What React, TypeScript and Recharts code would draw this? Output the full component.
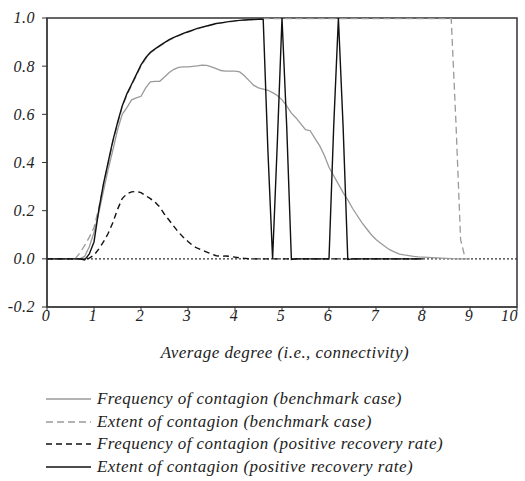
import {
  LineChart,
  Line,
  XAxis,
  YAxis,
  ReferenceLine,
  ReferenceArea,
} from "recharts";

// [average degree, value] pairs
const freqBenchmark: [number, number][] = [
  [0, 0], [0.7, 0], [0.8, 0.01], [0.9, 0.05], [1.0, 0.11], [1.1, 0.19],
  [1.2, 0.28], [1.3, 0.37], [1.4, 0.45], [1.5, 0.535], [1.6, 0.6],
  [1.7, 0.628], [1.8, 0.66], [1.9, 0.668], [2.0, 0.675], [2.1, 0.71],
  [2.2, 0.735], [2.3, 0.737], [2.4, 0.737], [2.5, 0.755], [2.6, 0.774],
  [2.7, 0.787], [2.8, 0.795], [2.9, 0.797], [3.0, 0.797], [3.1, 0.799],
  [3.2, 0.801], [3.3, 0.804], [3.4, 0.803], [3.5, 0.797], [3.6, 0.79],
  [3.7, 0.782], [3.8, 0.779], [3.9, 0.779], [4.0, 0.779], [4.1, 0.776],
  [4.2, 0.76], [4.3, 0.74], [4.4, 0.72], [4.5, 0.71], [4.6, 0.705],
  [4.7, 0.7], [4.8, 0.69], [4.9, 0.678], [5.0, 0.66], [5.1, 0.635],
  [5.2, 0.605], [5.3, 0.585], [5.4, 0.56], [5.5, 0.536], [5.6, 0.532],
  [5.7, 0.5], [5.8, 0.47], [5.9, 0.43], [6.0, 0.38], [6.1, 0.345],
  [6.2, 0.31], [6.3, 0.275], [6.4, 0.245], [6.5, 0.21], [6.6, 0.18],
  [6.7, 0.15], [6.8, 0.125], [6.9, 0.1], [7.0, 0.08], [7.1, 0.065],
  [7.2, 0.05], [7.3, 0.037], [7.4, 0.028], [7.5, 0.02], [7.6, 0.016],
  [7.7, 0.013], [7.8, 0.01], [7.9, 0.008], [8.0, 0.007], [8.2, 0.005],
  [8.4, 0.003], [8.6, 0.001], [8.8, 0], [9.0, 0],
];

const extentBenchmark: [number, number][] = [
  [0.6, 0], [0.7, 0.025], [0.8, 0.055], [0.9, 0.09], [1.0, 0.13],
  [1.1, 0.21], [1.2, 0.305], [1.3, 0.395], [1.4, 0.485], [1.5, 0.56],
  [1.6, 0.63], [1.7, 0.68], [1.8, 0.72], [1.9, 0.76], [2.0, 0.8],
  [2.1, 0.83], [2.2, 0.855], [2.3, 0.87], [2.4, 0.883], [2.5, 0.896],
  [2.6, 0.908], [2.7, 0.918], [2.8, 0.926], [2.9, 0.934], [3.0, 0.941],
  [3.2, 0.955], [3.4, 0.966], [3.6, 0.976], [3.8, 0.982], [4.0, 0.987],
  [4.2, 0.991], [4.4, 0.994], [4.6, 0.997], [4.8, 0.998], [5.0, 0.998],
  [6.0, 0.998], [7.0, 0.998], [8.0, 0.998], [8.6, 0.998], [8.7, 0.57],
  [8.8, 0.08], [8.9, 0],
];

const freqRecovery: [number, number][] = [
  [0, 0], [0.8, 0], [0.9, 0.003], [1.0, 0.015], [1.1, 0.04], [1.2, 0.07],
  [1.3, 0.105], [1.4, 0.15], [1.5, 0.205], [1.6, 0.25], [1.7, 0.27],
  [1.8, 0.278], [1.9, 0.28], [2.0, 0.275], [2.1, 0.262], [2.2, 0.25],
  [2.3, 0.235], [2.4, 0.215], [2.5, 0.185], [2.6, 0.16], [2.7, 0.135],
  [2.8, 0.11], [2.9, 0.09], [3.0, 0.072], [3.1, 0.055], [3.2, 0.044],
  [3.3, 0.036], [3.4, 0.028], [3.5, 0.02], [3.6, 0.013], [3.7, 0.011],
  [3.8, 0.012], [3.9, 0.01], [4.0, 0.007], [4.1, 0.004], [4.2, 0.002],
  [4.3, 0], [8.0, 0],
];

const extentRecovery: [number, number][] = [
  [0, 0], [0.7, 0], [0.8, -0.005], [0.9, 0.02], [1.0, 0.07], [1.1, 0.2],
  [1.2, 0.31], [1.3, 0.4], [1.4, 0.49], [1.5, 0.565], [1.6, 0.635],
  [1.7, 0.685], [1.8, 0.725], [1.9, 0.765], [2.0, 0.805], [2.1, 0.835],
  [2.2, 0.858], [2.3, 0.872], [2.4, 0.885], [2.5, 0.898], [2.6, 0.91],
  [2.7, 0.92], [2.8, 0.928], [2.9, 0.936], [3.0, 0.943], [3.1, 0.95],
  [3.2, 0.957], [3.3, 0.962], [3.4, 0.967], [3.5, 0.972], [3.6, 0.977],
  [3.7, 0.98], [3.8, 0.983], [3.9, 0.986], [4.0, 0.988], [4.1, 0.99],
  [4.2, 0.992], [4.3, 0.993], [4.4, 0.994], [4.5, 0.995], [4.6, 0.995],
  [4.7, 0.45], [4.8, 0], [4.9, 0.48], [5.0, 1.0], [5.1, 0.55],
  [5.2, -0.003], [5.3, 0], [6.0, 0], [6.1, 0.55], [6.2, 1.0], [6.3, 0.55],
  [6.4, -0.003], [6.5, 0], [8.0, 0],
];

const xTicks = [0, 1, 2, 3, 4, 5, 6, 7, 8, 9, 10];
const yTicks = [-0.2, 0, 0.2, 0.4, 0.6, 0.8, 1.0];

const SERIES = [
  { name: "Frequency of contagion (benchmark case)", points: freqBenchmark, color: "#9a9a9a", dash: undefined, width: 1.3 },
  { name: "Extent of contagion (benchmark case)", points: extentBenchmark, color: "#9a9a9a", dash: "7 4", width: 1.3 },
  { name: "Frequency of contagion (positive recovery rate)", points: freqRecovery, color: "#111", dash: "6 4", width: 1.4 },
  { name: "Extent of contagion (positive recovery rate)", points: extentRecovery, color: "#111", dash: undefined, width: 1.4 },
];

const FONT = "'Liberation Serif', serif";

const toRows = (pts: [number, number][]) => pts.map(([x, y]) => ({ x, y }));

const tickProps = { fontFamily: FONT, fontStyle: "italic", fontSize: 16, letterSpacing: 0.5, fill: "#222" };
const labelProps = { fontFamily: FONT, fontStyle: "italic", fontSize: 17, letterSpacing: 0.45, fill: "#222" };

const XTick = (p: any) => {
  const last = p.payload.value === 10;
  return (
    <text {...tickProps} x={last ? p.x + 1 : p.x - 1} y={p.y} dy="0.64em" textAnchor={last ? "end" : "middle"}>
      {p.payload.value}
    </text>
  );
};

const YTick = (p: any) => (
  <text {...tickProps} x={p.x} y={p.y} dy="0.34em" textAnchor="end">
    {Number(p.payload.value).toFixed(1)}
  </text>
);

const XLabel = (p: any) => {
  const vb = p.viewBox;
  return (
    <text {...labelProps} x={vb.x + vb.width / 2 + 3} y={vb.y + 51} textAnchor="middle">
      Average degree (i.e., connectivity)
    </text>
  );
};

export default function App() {
  return (
    <div style={{ position: "absolute", left: 0, top: 0, width: 525, height: 481, background: "#fff" }}>
      <LineChart width={525} height={370} margin={{ top: 18, right: 8, bottom: 3, left: 0 }}>
        <XAxis
          type="number"
          dataKey="x"
          domain={[0, 10]}
          ticks={xTicks}
          interval={0}
          tickSize={4}
          tickMargin={0}
          height={60}
          stroke="#333"
          tick={<XTick />}
          allowDataOverflow
          label={<XLabel />}
        />
        <YAxis
          type="number"
          domain={[-0.2, 1]}
          ticks={yTicks}
          interval={0}
          width={47}
          tickSize={5}
          tickMargin={7}
          stroke="#333"
          tick={<YTick />}
          allowDataOverflow
        />
        <ReferenceArea x1={0} x2={10} y1={-0.2} y2={1} fill="none" stroke="#333" strokeWidth={1.5} />
        <ReferenceLine y={0} stroke="#333" strokeWidth={1.3} strokeDasharray="2 2" />
        {SERIES.map((s) => (
          <Line
            key={s.name}
            data={toRows(s.points)}
            dataKey="y"
            type="linear"
            stroke={s.color}
            strokeWidth={s.width}
            strokeDasharray={s.dash}
            dot={false}
            activeDot={false}
            isAnimationActive={false}
          />
        ))}
      </LineChart>
      <div style={{ position: "absolute", left: 46, top: 388 }}>
        {SERIES.map((s) => (
          <div key={s.name} style={{ display: "flex", alignItems: "center", height: 22.6 }}>
            <svg width={45} height={10} style={{ marginRight: 6 }}>
              <line x1={0} y1={5} x2={45} y2={5} stroke={s.color} strokeWidth={s.width} strokeDasharray={s.dash} />
            </svg>
            <span
              style={{
                fontFamily: FONT,
                fontStyle: "italic",
                fontSize: 17,
                letterSpacing: 0.45,
                color: "#222",
                whiteSpace: "nowrap",
              }}
            >
              {s.name}
            </span>
          </div>
        ))}
      </div>
    </div>
  );
}
